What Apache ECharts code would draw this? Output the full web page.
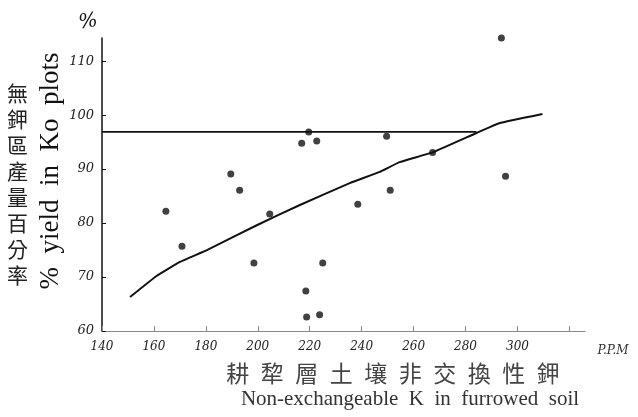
<!DOCTYPE html>
<html><head><meta charset="utf-8">
<script src="https://cdn.jsdelivr.net/npm/echarts@6/dist/echarts.min.js"></script>
<style>html,body{margin:0;padding:0;background:#fff}#c{width:638px;height:417px}</style>
</head><body><div id="c"></div>
<script>
// Scatter points: non-exchangeable K (ppm) vs % yield in Ko plots
const kPpm   = [164.6, 170.8, 189.6, 193.0, 198.5, 204.6, 216.9, 219.6, 222.7, 218.5, 218.8, 223.8, 225.0, 238.5, 249.6, 251.0, 267.3, 293.8, 295.4];
const yieldPct = [82.2, 75.7, 89.1, 86.1, 72.6, 81.7, 94.8, 96.9, 95.2, 67.4, 62.6, 63.0, 72.6, 83.5, 96.1, 86.1, 93.1, 114.3, 88.7];
// Hand-drawn trend curve
const curveX = [150.8, 161.0, 170.0, 180.4, 199.6, 216.0, 235.4, 247.0, 254.6, 267.3, 284.2, 293.0, 309.6];
const curveY = [66.3, 70.2, 72.8, 75.0, 79.6, 83.3, 87.4, 89.5, 91.3, 93.1, 96.7, 98.5, 100.2];
// Horizontal reference line
const refX = [140, 284.2];
const refY = [96.9, 96.9];
const xTicks = [140, 160, 180, 200, 220, 240, 260, 280, 300];
const yTicks = [60, 70, 80, 90, 100, 110];

const chart = echarts.init(document.getElementById('c'), null, {renderer: 'canvas'});
chart.setOption({
  animation: false,
  backgroundColor: '#fff',
  grid: {left: 102, top: 38, right: 53, bottom: 86},
  xAxis: {
    type: 'value', min: 140, max: 326, interval: 20,
    axisLine: {show: true, lineStyle: {color: '#8a8a8a', width: 1.2}},
    axisTick: {inside: true, length: 5, lineStyle: {color: '#8a8a8a'}},
    splitLine: {show: false},
    axisLabel: {
      showMaxLabel: false, margin: 10, color: '#222',
      fontFamily: 'DejaVu Serif', fontStyle: 'italic', fontSize: 12,
      formatter: v => xTicks.includes(v) ? String(v) : ''
    }
  },
  yAxis: {
    type: 'value', min: 60, max: 114.3, interval: 10,
    axisLine: {show: true, lineStyle: {color: '#111', width: 1.5}},
    axisTick: {inside: true, length: 4, lineStyle: {color: '#111'}},
    splitLine: {show: false},
    axisLabel: {
      showMaxLabel: false, margin: 8, color: '#222',
      fontFamily: 'DejaVu Serif', fontStyle: 'italic', fontSize: 13,
      formatter: v => yTicks.includes(v) ? String(v) : ''
    }
  },
  series: [
    {type: 'line', data: refX.map((x, i) => [x, refY[i]]), symbol: 'none',
     lineStyle: {color: '#111', width: 1.6}, silent: true},
    {type: 'line', data: curveX.map((x, i) => [x, curveY[i]]), symbol: 'none', smooth: 0.1,
     lineStyle: {color: '#111', width: 2}, silent: true},
    {type: 'scatter', data: kPpm.map((x, i) => [x, yieldPct[i]]), symbol: 'circle', symbolSize: 7,
     itemStyle: {color: '#111'}, clip: false}
  ],
  graphic: [
    {type: 'text', left: 7, top: 80, style: {
      text: '無\n鉀\n區\n產\n量\n百\n分\n率', fill: '#222',
      font: '21px "Noto Sans CJK TC"', lineHeight: 26, align: 'center'}},
    {type: 'text', x: 51, y: 171, rotation: Math.PI / 2, style: {
      text: '%  yield  in  Ko  plots', fill: '#111',
      font: '27px "Liberation Serif"', align: 'center', verticalAlign: 'middle'}},
    {type: 'text', x: 88, y: 22, rotation: 0.15, style: {
      text: '%', fill: '#111', font: 'italic 20px "DejaVu Serif"', align: 'center', verticalAlign: 'middle'}},
    {type: 'text', x: 613, y: 351, style: {
      text: 'P.P.M', fill: '#333', font: 'italic 12px "DejaVu Serif"', align: 'center', verticalAlign: 'middle'}},
    {type: 'text', x: 393, y: 373, style: {
      text: '耕\u2002犂\u2002層\u2002土\u2002壤\u2002非\u2002交\u2002換\u2002性\u2002鉀', fill: '#444',
      font: '23px "Noto Sans CJK TC"', align: 'center', verticalAlign: 'middle'}},
    {type: 'text', x: 410, y: 399, style: {
      text: 'Non-exchangeable  K  in  furrowed  soil', fill: '#333',
      font: '21px "Liberation Serif"', align: 'center', verticalAlign: 'middle'}}
  ]
});
</script>
</body></html>
